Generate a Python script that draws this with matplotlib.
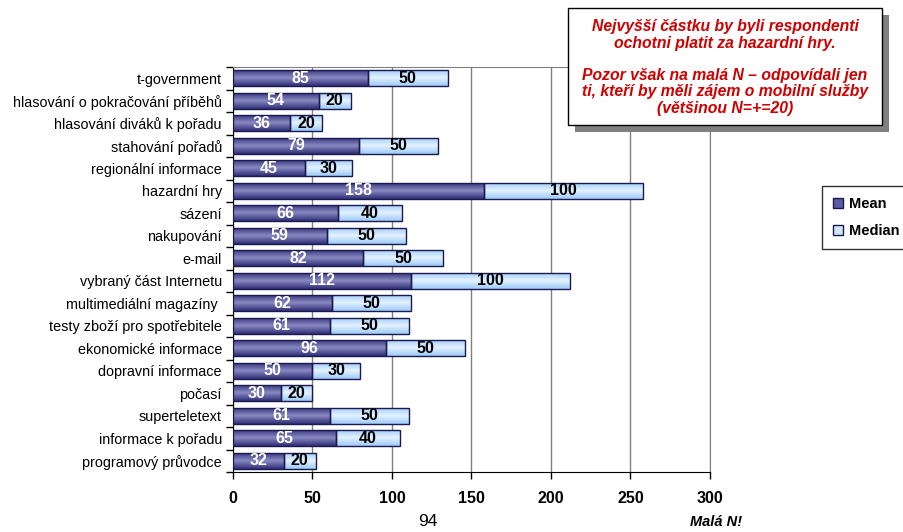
import matplotlib
matplotlib.use('Agg')
import matplotlib.pyplot as plt
import matplotlib.patches as mpatches
from matplotlib.colors import LinearSegmentedColormap
import numpy as np

plt.rcParams['font.family'] = ['Liberation Sans', 'DejaVu Sans']

# data (top to bottom as in the chart)
categories = [
    't-government',
    'hlasování o pokračování příběhů',
    'hlasování diváků k pořadu',
    'stahování pořadů',
    'regionální informace',
    'hazardní hry',
    'sázení',
    'nakupování',
    'e-mail',
    'vybraný část Internetu',
    'multimediální magazíny ',
    'testy zboží pro spotřebitele',
    'ekonomické informace',
    'dopravní informace',
    'počasí',
    'superteletext',
    'informace k pořadu',
    'programový průvodce',
]
mean_vals = [85, 54, 36, 79, 45, 158, 66, 59, 82, 112, 62, 61, 96, 50, 30, 61, 65, 32]
median_vals = [50, 20, 20, 50, 30, 100, 40, 50, 50, 100, 50, 50, 50, 30, 20, 50, 40, 20]
x_ticks = [0, 50, 100, 150, 200, 250, 300]

mean_color = '#5c5ca3'
median_color = '#cfe7ff'
edge_color = '#1a1a50'
mean_cmap = LinearSegmentedColormap.from_list('m', ['#2e2e78', '#8a8ac2', '#2e2e78'])
median_cmap = LinearSegmentedColormap.from_list('d', ['#9ccaf8', '#e4f2ff', '#9ccaf8'])

fig = plt.figure(figsize=(9.04, 5.32), dpi=100)
ax = fig.add_axes([233 / 904, 1 - 472 / 532, 477 / 904, 405 / 532])

y = np.arange(len(categories))
bh = 0.72
b1 = ax.barh(y, mean_vals, height=bh, color=mean_color, edgecolor=edge_color,
             linewidth=1.0, zorder=3)
b2 = ax.barh(y, median_vals, left=mean_vals, height=bh, color=median_color,
             edgecolor=edge_color, linewidth=1.0, zorder=3)

ax.set_xlim(0, 300)
ax.set_ylim(len(categories) - 0.5, -0.5)

# gradient fill inside each bar
grad = np.linspace(0, 1, 64).reshape(-1, 1)
for bars, cmap in ((b1, mean_cmap), (b2, median_cmap)):
    for p in bars:
        x0, y0 = p.get_x(), p.get_y()
        w, h = p.get_width(), p.get_height()
        im = ax.imshow(grad, cmap=cmap, aspect='auto', extent=(x0, x0 + w, y0 + h, y0),
                       zorder=3.5, interpolation='bilinear')
        im.set_clip_path(p)
        p.set_facecolor('none')
        p.set_zorder(3.6)

for i in range(len(categories)):
    ax.text(mean_vals[i] / 2, y[i], str(mean_vals[i]), ha='center', va='center',
            color='white', fontsize=11.5, fontweight='bold', zorder=4)
    ax.text(mean_vals[i] + median_vals[i] / 2, y[i], str(median_vals[i]),
            ha='center', va='center', color='black', fontsize=11.5,
            fontweight='bold', zorder=4)

ax.set_xlim(0, 300)
ax.set_ylim(len(categories) - 0.5, -0.5)
ax.set_xticks(x_ticks)
ax.set_xticklabels([str(t) for t in x_ticks], fontsize=11.5, fontweight='bold')
ax.set_yticks(y)
ax.set_yticklabels(categories, fontsize=10.4)
ax.tick_params(axis='y', length=0, pad=8)
ax.set_yticks(np.arange(len(categories) + 1) - 0.5, minor=True)
ax.tick_params(axis='y', which='minor', length=5, width=1, direction='out')
ax.tick_params(axis='x', length=5, width=1, direction='out', pad=9)
ax.xaxis.grid(True, color='#808080', linewidth=1, zorder=0)
ax.set_axisbelow(True)
for s in ax.spines.values():
    s.set_color('#808080')
ax.spines['left'].set_color('black')
ax.spines['bottom'].set_color('black')

# note box with shadow
W, H = 904, 532
bx0, by0, bx1, by1 = 568, 8, 882, 125
shadow = mpatches.Rectangle(((bx0 + 7) / W, 1 - (by1 + 7) / H), (bx1 - bx0) / W,
                            (by1 - by0) / H, transform=fig.transFigure,
                            facecolor='#808080', edgecolor='none', zorder=5)
box = mpatches.Rectangle((bx0 / W, 1 - by1 / H), (bx1 - bx0) / W, (by1 - by0) / H,
                         transform=fig.transFigure, facecolor='white',
                         edgecolor='black', linewidth=1, zorder=6)
fig.patches.extend([shadow, box])
note1 = ('Nejvyšší částku by byli respondenti\n'
         'ochotni platit za hazardní hry.')
note2 = ('Pozor však na malá N – odpovídali jen\n'
         'ti, kteří by měli zájem o mobilní služby\n'
         '(většinou N=+=20)')
cx = (bx0 + bx1) / 2 / W
fig.text(cx, 1 - 35 / H, note1, ha='center', va='center', color='#d00000',
         fontsize=11.3, fontweight='bold', fontstyle='italic', linespacing=1.15,
         zorder=7)
fig.text(cx, 1 - 92 / H, note2, ha='center', va='center', color='#d00000',
         fontsize=11.3, fontweight='bold', fontstyle='italic', linespacing=1.15,
         zorder=7)

# legend
handles = [mpatches.Patch(facecolor=mean_color, edgecolor=edge_color, label='Mean'),
           mpatches.Patch(facecolor=median_color, edgecolor=edge_color, label='Median')]
leg = fig.legend(handles=handles, loc='upper left',
                 bbox_to_anchor=(822 / W, 1 - 186 / H), frameon=True,
                 fancybox=False, prop={'weight': 'bold', 'size': 10.5},
                 handlelength=0.7, handleheight=0.7, handletextpad=0.4,
                 labelspacing=0.9, borderpad=0.75, borderaxespad=0)
leg.get_frame().set_edgecolor('black')
leg.get_frame().set_linewidth(1)

fig.text(428 / W, 1 - 522 / H, '94', ha='center', va='center', fontsize=12.5)
fig.text(742 / W, 1 - 522 / H, 'Malá N!', ha='right', va='center', fontsize=10.5,
         fontweight='bold', fontstyle='italic')

fig.savefig('out.png', dpi=100, facecolor='white')
